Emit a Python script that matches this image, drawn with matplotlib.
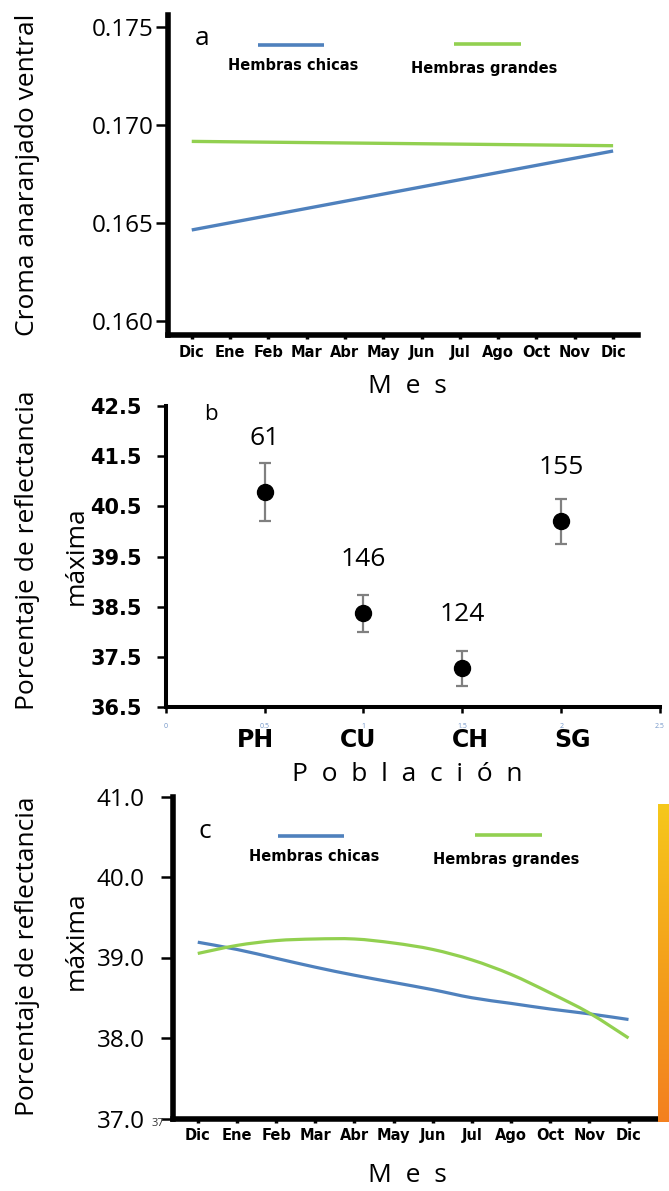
import matplotlib
matplotlib.use("Agg")
import matplotlib.pyplot as plt
import numpy as np
from matplotlib import font_manager
from matplotlib.colors import LinearSegmentedColormap
from matplotlib.patches import PathPatch
from matplotlib.path import Path
from matplotlib.ticker import FormatStrFormatter
from matplotlib.transforms import blended_transform_factory


def primera_fuente(nombres):
    for nombre in nombres:
        try:
            font_manager.findfont(font_manager.FontProperties(family=nombre),
                                  fallback_to_default=False)
            return nombre
        except Exception:
            continue
    return "DejaVu Sans"


FUENTE = primera_fuente(["Open Sans", "Noto Sans", "Lato", "Liberation Sans"])
plt.rcParams["font.family"] = [FUENTE, "DejaVu Sans"]

# ---------------- data ----------------
meses = ["Dic", "Ene", "Feb", "Mar", "Abr", "May", "Jun", "Jul", "Ago", "Oct", "Nov", "Dic"]
mes_idx = list(range(len(meses)))

# (a) linear trend of ventral orange chroma, first and last month
tendencia_x = [0, 11]
croma_chicas = [0.16463, 0.16866]
croma_grandes = [0.16915, 0.16893]

# (b) maximum reflectance by population (mean, error, sample size)
poblaciones = ["PH", "CU", "CH", "SG"]
pos_poblacion = [0.5, 1.0, 1.5, 2.0]
reflect_media = [40.79, 38.37, 37.28, 40.20]
reflect_error = [0.575, 0.37, 0.35, 0.445]
n_muestra = [61, 146, 124, 155]
ticks_poblacion = [0, 0.5, 1, 1.5, 2, 2.5]
ticks_poblacion_txt = ["0", "0.5", "1", "1.5", "2", "2.5"]

# (c) maximum reflectance through the year
refl_chicas = [39.19, 39.10, 38.99, 38.88, 38.78, 38.69, 38.60, 38.50, 38.43, 38.36, 38.30, 38.23]
refl_grandes = [39.05, 39.15, 39.21, 39.23, 39.23, 39.18, 39.10, 38.97, 38.79, 38.56, 38.31, 38.00]

leyenda_txt = ["Hembras chicas", "Hembras grandes"]

# ---------------- style ----------------
W, H = 669, 1191
AZUL = "#4F81BD"
VERDE = "#92D050"
REG = [FUENTE, "DejaVu Sans"]
BOLD = ["DejaVu Sans"]

fig = plt.figure(figsize=(W / 100, H / 100), dpi=100)


def caja(l, t, r, b):
    return [l / W, 1 - b / H, (r - l) / W, (b - t) / H]


def fx(x):
    return x / W


def fy(y):
    return 1 - y / H


def ejes(ax, lw):
    for s in ("top", "right"):
        ax.spines[s].set_visible(False)
    for s in ("left", "bottom"):
        ax.spines[s].set_linewidth(lw)
        ax.spines[s].set_color("black")
        ax.spines[s].set_capstyle("projecting")


def leyenda(ax, segs, textos):
    for (x0, x1, y, color), (tx, ty, label) in zip(segs, textos):
        ax.plot([x0, x1], [y, y], transform=ax.transAxes, color=color, lw=2.6,
                solid_capstyle="butt", clip_on=False)
        ax.text(tx, ty, label, transform=ax.transAxes, ha="center", va="center",
                fontsize=10.5, fontweight="bold", family=BOLD)


def linea_suave(ax, xs, ys, color, lw):
    """Smoothed line through the points (Catmull-Rom as cubic Bezier segments)."""
    p = np.column_stack([xs, ys]).astype(float)
    ext = np.vstack([p[0], p, p[-1]])
    verts = [tuple(p[0])]
    codes = [Path.MOVETO]
    for i in range(len(p) - 1):
        p0, p1, p2, p3 = ext[i], ext[i + 1], ext[i + 2], ext[i + 3]
        c1 = p1 + (p2 - p0) / 6.0
        c2 = p2 - (p3 - p1) / 6.0
        verts += [tuple(c1), tuple(c2), tuple(p2)]
        codes += [Path.CURVE4] * 3
    ax.add_patch(PathPatch(Path(verts, codes), facecolor="none", edgecolor=color,
                           lw=lw, capstyle="butt", transform=ax.transData))


# ================= panel a =================
ax = fig.add_axes(caja(168, 15, 638, 335))
ax.plot(tendencia_x, croma_grandes, color=VERDE, lw=2.4, solid_capstyle="butt")
ax.plot(tendencia_x, croma_chicas, color=AZUL, lw=2.4, solid_capstyle="butt")
ax.set_xlim(-0.62, 11.65)
ax.set_ylim(0.15927, 0.1756)
ax.set_yticks([0.160, 0.165, 0.170, 0.175])
ax.yaxis.set_major_formatter(FormatStrFormatter("%.3f"))
ax.set_xticks(mes_idx)
ax.set_xticklabels(meses, fontsize=10.5, fontweight="bold", family=BOLD)
for t in ax.get_yticklabels():
    t.set_family(REG)
    t.set_fontsize(17.5)
ax.tick_params(axis="y", direction="out", length=8.5, width=1.8, pad=2)
ax.tick_params(axis="x", direction="out", length=3, width=2.5, pad=4)
ejes(ax, 4)
leyenda(ax,
        [(0.1915, 0.3319, 0.906, AZUL), (0.6085, 0.751, 0.908, VERDE)],
        [(0.267, 0.842, leyenda_txt[0]), (0.673, 0.833, leyenda_txt[1])])
ax.text(0.0717, 0.927, "a", transform=ax.transAxes, ha="center", va="center",
        fontsize=19, family=REG)

fig.text(fx(34.5), fy(175), "Croma anaranjado ventral", rotation=90,
         rotation_mode="anchor", ha="center", va="baseline", fontsize=19, family=REG)
fig.text(fx(407), fy(393), "M  e  s", ha="center", va="baseline", fontsize=19, family=REG)

# ================= panel b =================
ax = fig.add_axes(caja(165.7, 406, 660, 707.3))
ax.errorbar(pos_poblacion, reflect_media, yerr=reflect_error, fmt="o", color="black",
            ms=11.5, ecolor="#808080", elinewidth=1.6, capsize=4.5, capthick=1.6)
for x, y, n in zip(pos_poblacion, reflect_media, n_muestra):
    ax.annotate(str(n), (x, y), xytext=(0, 47), textcoords="offset pixels",
                ha="center", va="baseline", fontsize=19, family=REG)
ax.set_xlim(0, 2.5)
ax.set_ylim(36.5, 42.5)
ax.set_yticks(np.arange(36.5, 42.6, 1.0))
ax.yaxis.set_major_formatter(FormatStrFormatter("%.1f"))
for t in ax.get_yticklabels():
    t.set_family(BOLD)
    t.set_fontweight("bold")
    t.set_fontsize(15)
ax.set_xticks(ticks_poblacion)
ax.set_xticklabels(ticks_poblacion_txt, fontsize=5, color="#7396c8")
ax.tick_params(axis="y", direction="out", length=6.5, width=1.8, pad=10.5)
ax.tick_params(axis="x", direction="out", length=4.3, width=1.8, pad=7)
ejes(ax, 2.9)
trans = blended_transform_factory(ax.transData, ax.transAxes)
for x, nombre, dx in zip(pos_poblacion, poblaciones, [-9, -5, 8, 11]):
    ax.annotate(nombre, (x, 0), xycoords=trans, xytext=(dx, -33),
                textcoords="offset pixels", ha="center", va="center",
                fontsize=17, fontweight="bold", family=BOLD, annotation_clip=False)
ax.text(0.0917, 0.972, "b", transform=ax.transAxes, ha="center", va="center",
        fontsize=16, family=REG)

fig.text(fx(34.5), fy(550), "Porcentaje de reflectancia", rotation=90,
         rotation_mode="anchor", ha="center", va="baseline", fontsize=19, family=REG)
fig.text(fx(83), fy(556), "máxima", rotation=90,
         rotation_mode="anchor", ha="center", va="baseline", fontsize=19, family=REG)
fig.text(fx(407.5), fy(781), "P  o  b  l  a  c  i  ó  n", ha="center", va="baseline",
         fontsize=19, family=REG)

# ================= panel c =================
ax = fig.add_axes(caja(172.7, 796.5, 656.7, 1118.5))
linea_suave(ax, mes_idx, refl_chicas, AZUL, 2.3)
linea_suave(ax, mes_idx, refl_grandes, VERDE, 2.3)
ax.set_xlim(-0.64, 11.72)
ax.set_ylim(37.0, 41.0)
ax.set_yticks([37.0, 38.0, 39.0, 40.0, 41.0])
ax.yaxis.set_major_formatter(FormatStrFormatter("%.1f"))
for t in ax.get_yticklabels():
    t.set_family(REG)
    t.set_fontsize(17.5)
ax.set_xticks(mes_idx)
ax.set_xticklabels(meses, fontsize=10.5, fontweight="bold", family=BOLD)
ax.tick_params(axis="y", direction="out", length=9, width=1.8, pad=11)
ax.tick_params(axis="x", direction="out", length=3, width=2.5, pad=4)
ejes(ax, 4)
leyenda(ax,
        [(0.218, 0.354, 0.877, AZUL), (0.6246, 0.7636, 0.880, VERDE)],
        [(0.292, 0.815, leyenda_txt[0]), (0.688, 0.805, leyenda_txt[1])])
ax.text(0.067, 0.891, "c", transform=ax.transAxes, ha="center", va="center",
        fontsize=19, family=REG)
fig.text(fx(158), fy(1123), "37", ha="center", va="center", fontsize=8,
         color="#333333", family=REG)

fig.text(fx(34.5), fy(956), "Porcentaje de reflectancia", rotation=90,
         rotation_mode="anchor", ha="center", va="baseline", fontsize=19, family=REG)
fig.text(fx(83), fy(941), "máxima", rotation=90,
         rotation_mode="anchor", ha="center", va="baseline", fontsize=19, family=REG)
fig.text(fx(407), fy(1182), "M  e  s", ha="center", va="baseline", fontsize=19, family=REG)

# colour strip at the right edge of panel c
axg = fig.add_axes(caja(658.3, 804, 669, 1121.7))
grad = LinearSegmentedColormap.from_list("amarillo_naranja", ["#F6C81B", "#F4A11C", "#F3801F"])
axg.imshow(np.linspace(0, 1, 256).reshape(-1, 1), aspect="auto", cmap=grad,
           extent=[0, 1, 1, 0])
axg.set_axis_off()

fig.savefig("out.png", dpi=100)
